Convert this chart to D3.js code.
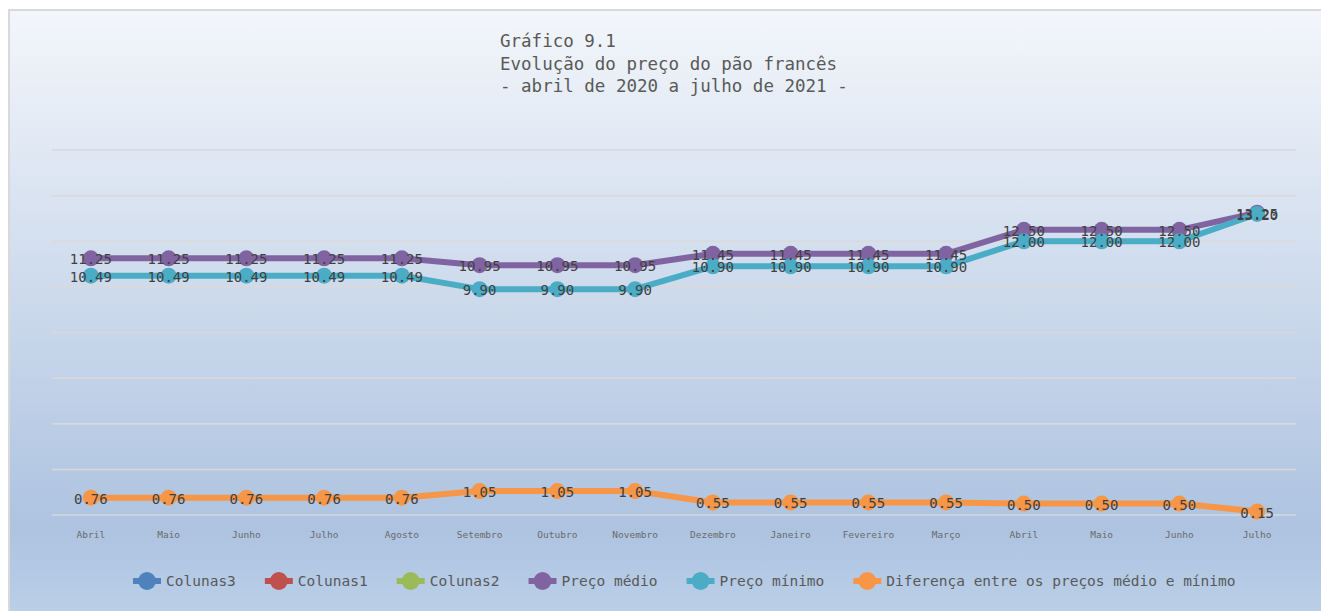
<!DOCTYPE html>
<html>
<head>
<meta charset="utf-8">
<script src="https://cdn.jsdelivr.net/npm/d3@7"></script>
<style>
  body { margin: 0; background: #fff; }
  text { font-family: "DejaVu Sans Mono", "Liberation Mono", monospace; }
</style>
</head>
<body>
<script>
const width = 1321;
const height = 611;
const plot = {left: 52, right: 1296, top: 150, bottom: 515};

const months = ['Abril', 'Maio', 'Junho', 'Julho', 'Agosto', 'Setembro', 'Outubro', 'Novembro',
  'Dezembro', 'Janeiro', 'Fevereiro', 'Março', 'Abril', 'Maio', 'Junho', 'Julho'];
const precoMedio = [11.25, 11.25, 11.25, 11.25, 11.25, 10.95, 10.95, 10.95,
  11.45, 11.45, 11.45, 11.45, 12.50, 12.50, 12.50, 13.25];
const precoMinimo = [10.49, 10.49, 10.49, 10.49, 10.49, 9.90, 9.90, 9.90,
  10.90, 10.90, 10.90, 10.90, 12.00, 12.00, 12.00, 13.20];
const diferenca = [0.76, 0.76, 0.76, 0.76, 0.76, 1.05, 1.05, 1.05,
  0.55, 0.55, 0.55, 0.55, 0.50, 0.50, 0.50, 0.15];
const yTicks = [0, 2, 4, 6, 8, 10, 12, 14, 16];
const titleLines = ['Gráfico 9.1', 'Evolução do preço do pão francês', '- abril de 2020 a julho de 2021 -'];

const legendItems = [
  {name: 'Colunas3', color: '#4f81bd'},
  {name: 'Colunas1', color: '#c0504d'},
  {name: 'Colunas2', color: '#9bbb59'},
  {name: 'Preço médio', color: '#8064a2'},
  {name: 'Preço mínimo', color: '#4bacc6'},
  {name: 'Diferença entre os preços médio e mínimo', color: '#f79646'}
];

const series = [
  {values: precoMedio, color: '#8064a2'},
  {values: precoMinimo, color: '#4bacc6'},
  {values: diferenca, color: '#f79646'}
];

const svg = d3.select('body').append('svg')
  .attr('width', width)
  .attr('height', height);

const defs = svg.append('defs');
const grad = defs.append('linearGradient')
  .attr('id', 'bg')
  .attr('x1', 0).attr('y1', 0).attr('x2', 0).attr('y2', 1);
grad.append('stop').attr('offset', '0%').attr('stop-color', '#f3f6fb');
grad.append('stop').attr('offset', '85%').attr('stop-color', '#adc3e0');
grad.append('stop').attr('offset', '100%').attr('stop-color', '#bcd0e8');

svg.append('rect')
  .attr('x', 9).attr('y', 10)
  .attr('width', width).attr('height', height)
  .attr('fill', 'url(#bg)')
  .attr('stroke', '#d9d9d9')
  .attr('stroke-width', 2);

// title
svg.append('g').selectAll('text')
  .data(titleLines)
  .enter()
  .append('text')
    .attr('x', 500)
    .attr('y', (d, i) => 47 + i * 22.5)
    .attr('font-size', '17.5px')
    .attr('fill', '#595959')
    .text(d => d);

const xScale = d3.scaleBand()
  .domain(d3.range(months.length))
  .range([plot.left, plot.right]);

const yScale = d3.scaleLinear()
  .domain([0, 16])
  .range([plot.bottom, plot.top]);

const cx = i => xScale(i) + xScale.bandwidth() / 2;

// gridlines
svg.append('g').selectAll('line')
  .data(yTicks)
  .enter()
  .append('line')
    .attr('x1', plot.left)
    .attr('x2', plot.right)
    .attr('y1', d => yScale(d))
    .attr('y2', d => yScale(d))
    .attr('stroke', '#d9d9d9')
    .attr('stroke-width', 1.5);

// x axis labels
const xAxis = d3.axisBottom(xScale)
  .tickSize(0)
  .tickPadding(16)
  .tickFormat(i => months[i]);

svg.append('g')
  .attr('transform', `translate(0, ${plot.bottom})`)
  .call(xAxis)
  .call(g => g.select('.domain').remove())
  .selectAll('text')
    .attr('font-family', '"DejaVu Sans Mono", monospace')
    .attr('font-size', '9.5px')
    .attr('fill', '#6a6a6a');

const line = d3.line()
  .x((d, i) => cx(i))
  .y(d => yScale(d));

series.forEach(s => {
  const g = svg.append('g');
  g.append('path')
    .datum(s.values)
    .attr('d', line)
    .attr('fill', 'none')
    .attr('stroke', s.color)
    .attr('stroke-width', 6)
    .attr('stroke-linejoin', 'round');
  g.selectAll('circle')
    .data(s.values)
    .enter()
    .append('circle')
      .attr('cx', (d, i) => cx(i))
      .attr('cy', d => yScale(d))
      .attr('r', 8)
      .attr('fill', s.color);
});

// data labels on top of all series
series.forEach(s => {
  svg.append('g').selectAll('text')
    .data(s.values)
    .enter()
    .append('text')
      .attr('x', (d, i) => cx(i))
      .attr('y', d => yScale(d) + 6)
      .attr('text-anchor', 'middle')
      .attr('font-size', '14px')
      .attr('fill', '#404040')
      .text(d => d.toFixed(2));
});

// legend
const legend = svg.append('g').attr('transform', 'translate(0, 581)');
let lx = 133;
legendItems.forEach(item => {
  const g = legend.append('g').attr('transform', `translate(${lx}, 0)`);
  g.append('line')
    .attr('x1', 0).attr('x2', 28)
    .attr('stroke', item.color)
    .attr('stroke-width', 6);
  g.append('circle')
    .attr('cx', 14).attr('r', 9)
    .attr('fill', item.color);
  const t = g.append('text')
    .attr('x', 33)
    .attr('y', 5)
    .attr('font-size', '14.5px')
    .attr('fill', '#595959')
    .text(item.name);
  lx += 33 + t.node().getComputedTextLength() + 29;
});
</script>
</body>
</html>
